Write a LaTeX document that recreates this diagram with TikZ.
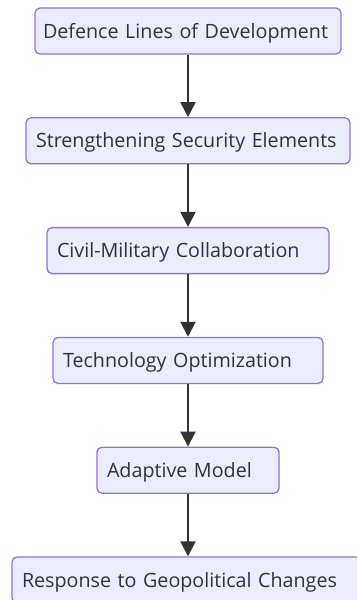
\documentclass[tikz,border=0pt]{standalone}
\usepackage{fontspec}
\setmainfont{Open Sans}
\usetikzlibrary{arrows.meta, positioning}
\definecolor{boxfill}{HTML}{ECECFF}
\definecolor{boxline}{HTML}{9370DB}
\definecolor{ink}{HTML}{333333}
\tikzstyle{stage} = [rectangle, rounded corners=5pt, minimum height=46pt, inner xsep=10pt, text height=14pt, text depth=0pt, align=left, draw=boxline, line width=1.3pt, fill=boxfill, text=ink, font=\fontsize{19.7}{23}\selectfont]
\tikzstyle{arrow} = [line width=2pt, draw=ink, -{Triangle[width=15pt,length=15pt]}]

\begin{document}
\begin{tikzpicture}[node distance=109.8pt]
    \useasboundingbox[fill=white] (0pt,0pt) rectangle (357pt,-600pt);
    \clip (0pt,0pt) rectangle (357pt,-600pt);
    \node (defence) [stage, text width=290pt, inner xsep=8pt] at (188pt,-31pt) {Defence Lines of Development};
    \node (security) [stage, text width=304pt, below of=defence] {Strengthening Security Elements};
    \node (civil) [stage, text width=262pt, below of=security] {Civil-Military Collaboration};
    \node (tech) [stage, text width=250pt, below of=civil] {Technology Optimization};
    \node (adaptive) [stage, text width=162pt, below of=tech] {Adaptive Model};
    \node (response) [stage, text width=332pt, below of=adaptive] {Response to Geopolitical Changes};
    \draw [arrow] (defence) -- (security);
    \draw [arrow] (security) -- (civil);
    \draw [arrow] (civil) -- (tech);
    \draw [arrow] (tech) -- (adaptive);
    \draw [arrow] (adaptive) -- (response);
\end{tikzpicture}
\end{document}
